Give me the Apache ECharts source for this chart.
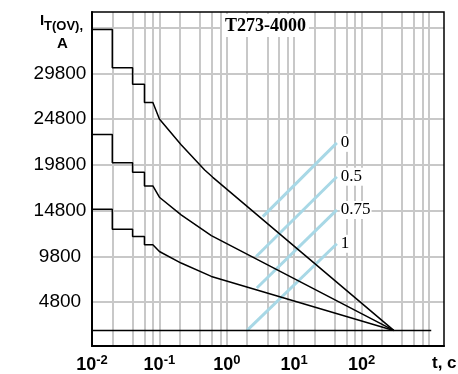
<!DOCTYPE html>
<html>
<head>
<meta charset="utf-8">
<script src="https://cdn.jsdelivr.net/npm/echarts@6/dist/echarts.min.js"></script>
<style>
  html, body { margin: 0; padding: 0; background: #fff; }
  #chart { width: 458px; height: 374px; }
</style>
</head>
<body>
<div id="chart"></div>
<script>
// grid positions and tick labels
const xGridValues = [0.02, 0.04, 0.06, 0.08, 0.1, 0.2, 0.4, 0.6, 0.8, 1, 2, 4, 6, 8, 10,
    20, 40, 60, 80, 100, 200, 400, 600, 800, 1000];
const yGridValues = [4800, 9800, 14800, 19800, 24800, 29800, 34800];
const yTickLabels = [4800, 9800, 14800, 19800, 24800, 29800];

// I_T(OV) curves, [t, A]
const curve0 = [[0.01, 34600], [0.02, 34600], [0.02, 30400], [0.04, 30400], [0.04, 28600],
    [0.06, 28600], [0.06, 26600], [0.08, 26600], [0.1, 24800], [0.21, 22000], [0.47, 19230],
    [0.62, 18435], [300, 1700]];
const curve1 = [[0.01, 23120], [0.02, 23120], [0.02, 20030], [0.04, 20030], [0.04, 18980],
    [0.06, 18980], [0.06, 17490], [0.08, 17490], [0.1, 16260], [0.21, 14330], [0.59, 12070],
    [300, 1700]];
const curve2 = [[0.01, 14950], [0.02, 14950], [0.02, 12770], [0.04, 12770], [0.04, 11960],
    [0.06, 11960], [0.06, 11060], [0.08, 11060], [0.1, 10330], [0.21, 9065], [0.59, 7605],
    [300, 1700]];
const baseline = [[0.01, 1700], [1080, 1700]];

// blue lines and their labels
const blueLabels = ["0", "0.5", "0.75", "1"];
const blueLines = [
    [[3.42, 14140], [42.9, 22200]],
    [[2.73, 9780], [42.9, 18500]],
    [[2.79, 6340], [42.9, 14870]],
    [[2.0, 1700], [42.9, 11170]],
];

const chart = echarts.init(document.getElementById("chart"));

const blackLine = (data) => ({
    type: "line",
    data,
    showSymbol: false,
    symbol: "none",
    z: 4,
    lineStyle: { color: "#000", width: 1.5 },
});

chart.setOption({
    animation: false,
    backgroundColor: "#fff",
    grid: { left: 92, top: 12, right: 14, bottom: 27, show: true, borderColor: "#000", borderWidth: 1.5, z: 6 },
    xAxis: {
        type: "log",
        logBase: 10,
        min: 0.01,
        max: 1670,
        z: 6,
        axisLine: { lineStyle: { color: "#000", width: 2 } },
        axisTick: { show: false },
        splitLine: { show: false },
        axisLabel: {
            margin: 8,
            showMaxLabel: false,
            formatter: (v) => {
                const e = Math.round(Math.log10(v));
                if (e > 2) return "";
                return "{b|10}{s|" + e + "}";
            },
            rich: {
                b: { fontFamily: "Liberation Sans", fontWeight: "bold", fontSize: 18, color: "#000" },
                s: { fontFamily: "Liberation Sans", fontWeight: "bold", fontSize: 13, color: "#000", padding: [0, 0, 9, 0] },
            },
        },
    },
    yAxis: {
        type: "value",
        min: 0,
        max: 36500,
        z: 6,
        axisLine: { show: true, lineStyle: { color: "#000", width: 2 } },
        axisTick: { show: false },
        splitLine: { show: false },
        axisLabel: {
            customValues: yTickLabels,
            formatter: (v) => String(v),
            align: "center",
            margin: 32,
            fontFamily: "Liberation Sans",
            fontSize: 19,
            color: "#000",
        },
    },
    graphic: [
        { type: "text", left: 40, top: 13, z: 10, style: { text: "I", font: "bold 15px Liberation Sans", fill: "#000" } },
        { type: "text", left: 44, top: 20, z: 10, style: { text: "T(OV),", font: "bold 13px Liberation Sans", fill: "#000" } },
        { type: "text", left: 57, top: 36, z: 10, style: { text: "A", font: "bold 15px Liberation Sans", fill: "#000" } },
        {
            type: "text", left: 222, top: 14, z: 10,
            style: {
                text: "T273-4000", font: "bold 18px Liberation Serif", fill: "#000",
                backgroundColor: "#fff", padding: [3, 3, 2, 3],
            },
        },
        { type: "text", left: 432, top: 355, z: 10, style: { text: "t, c", font: "bold 17px Liberation Sans", fill: "#000" } },
    ],
    series: [
        {
            type: "line",
            data: [[0.01, 0]],
            symbol: "none",
            lineStyle: { opacity: 0 },
            z: 1,
            markLine: {
                silent: true,
                z: 1,
                symbol: ["none", "none"],
                label: { show: false },
                lineStyle: { color: "#c8c8c8", width: 2, type: "solid" },
                data: xGridValues.map((v) => ({ xAxis: v }))
                    .concat(yGridValues.map((v) => ({ yAxis: v }))),
            },
        },
        ...blueLines.map((d, i) => ({
            type: "line",
            data: d,
            symbol: "none",
            z: 3,
            lineStyle: { color: "#a8d8e6", width: 3 },
            endLabel: {
                show: true,
                formatter: blueLabels[i],
                distance: 3,
                fontFamily: "Liberation Serif",
                fontSize: 17,
                color: "#000",
                backgroundColor: "#fff",
                padding: [1, 1, 0, 1],
            },
        })),
        blackLine(curve0),
        blackLine(curve1),
        blackLine(curve2),
        blackLine(baseline),
    ],
});
</script>
</body>
</html>
